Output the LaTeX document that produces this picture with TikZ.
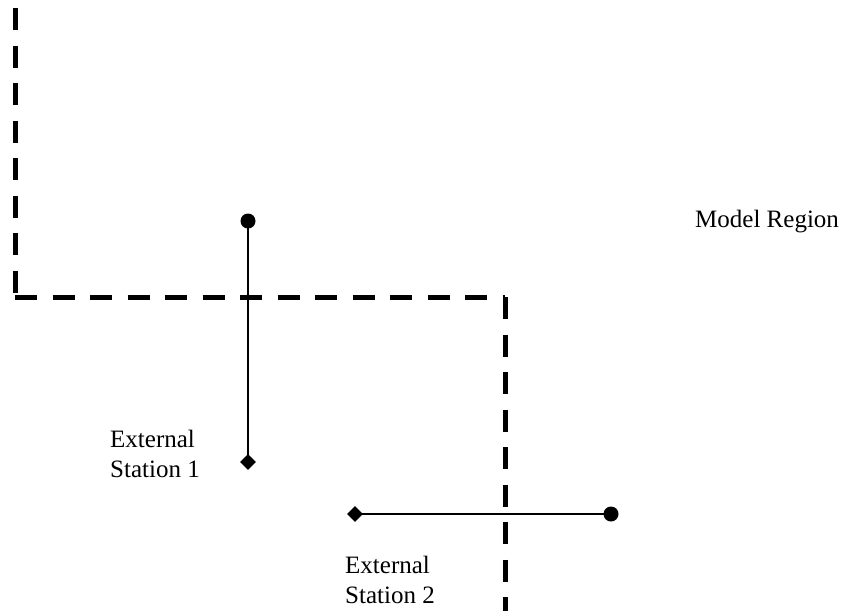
\documentclass[tikz,border=0pt]{standalone}
\usepackage{fontspec}
\setmainfont{Liberation Serif}
\usetikzlibrary{shapes.geometric}
\tikzset{
  boundary/.style={line width=5pt, dash pattern=on 22pt off 15.5pt, line cap=butt},
  link/.style={line width=2pt},
  endpoint/.style={circle, fill=black, inner sep=0pt, minimum size=15pt},
  station/.style={diamond, fill=black, inner sep=0pt, minimum size=16pt},
  label/.style={font=\fontsize{25}{30}\selectfont, align=left, inner sep=0pt}
}
\begin{document}
\begin{tikzpicture}[x=1pt, y=-1pt]
  \useasboundingbox (0,0) rectangle (843,611);
  % region boundary
  \coordinate (b0) at (15,8);
  \coordinate (b1) at (15,297);
  \coordinate (b2) at (505,297);
  \coordinate (b3) at (505,611);
  \draw[boundary] (b0) -- (b1);
  \draw[boundary] (b1) -- (b2);
  \draw[boundary] (b2) -- (b3);

  % station 1 link
  \node[endpoint] (m1) at (248,221) {};
  \node[station] (s1) at (248,462) {};
  \draw[link] (m1.center) -- (s1.center);

  % station 2 link
  \node[station] (s2) at (355,514) {};
  \node[endpoint] (m2) at (611,514) {};
  \draw[link] (s2.center) -- (m2.center);

  % labels (base anchor sits on the last line)
  \node[label, anchor=base west] (t1) at (110,477) {External\\Station 1};
  \node[label, anchor=base west] (t2) at (345,603) {External\\Station 2};
  \node[label, anchor=base west] (t3) at (695,227) {Model Region};
\end{tikzpicture}
\end{document}
